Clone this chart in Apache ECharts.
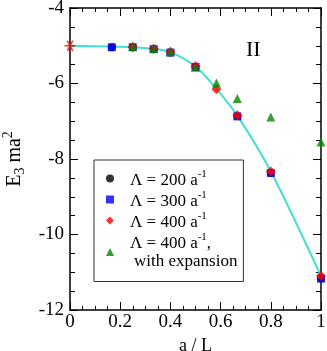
<!DOCTYPE html>
<html>
<head>
<meta charset="utf-8">
<script src="https://cdn.jsdelivr.net/npm/echarts@6/dist/echarts.min.js"></script>
<style>
  html, body { margin: 0; padding: 0; background: #fff; }
  #chart { width: 327px; height: 351px; }
</style>
</head>
<body>
<div id="chart"></div>
<script>
// a / L values and E_3 ma^2 for each cutoff
var xs200 = [1 / 6, 0.25, 1 / 3, 0.4, 0.5, 2 / 3, 0.8, 1];
var ys200 = [-5.04, -5.04, -5.09, -5.18, -5.56, -6.87, -8.37, -11.16];
var xs300 = [1 / 6, 0.25, 1 / 3, 0.4, 0.5, 2 / 3, 0.8, 1];
var ys300 = [-5.04, -5.04, -5.09, -5.18, -5.56, -6.87, -8.37, -11.17];
var xs400 = [0.25, 1 / 3, 0.4, 0.5, 7 / 12, 2 / 3, 0.8, 1];
var ys400 = [-5.03, -5.08, -5.16, -5.54, -6.15, -6.84, -8.33, -11.1];
var xsExp = [0.25, 1 / 3, 0.4, 0.5, 7 / 12, 2 / 3, 0.8, 1];
var ysExp = [-5.02, -5.07, -5.16, -5.57, -5.99, -6.4, -6.89, -7.55];
// fitted curve
var fitX = [0, 1 / 6, 0.25, 1 / 3, 0.4, 0.5, 7 / 12, 2 / 3, 0.8, 1];
var fitY = [-5.0, -5.02, -5.04, -5.08, -5.17, -5.55, -6.14, -6.85, -8.33, -11.1];
// continuum limit
var limitPoint = [[0, -5.0]];

function pairs(xs, ys) {
  return xs.map(function (x, i) { return [x, ys[i]]; });
}

var serif = 'Liberation Serif';
var legendText = {
  L200: '{f|\u039B = 200 a}{s|-1}',
  L300: '{f|\u039B = 300 a}{s|-1}',
  L400: '{f|\u039B = 400 a}{s|-1}',
  L400e: '{f|\u039B = 400 a}{s|-1}{a|,}\n{g|with expansion}'
};

// asterisk made of three thin bars
var starPath = 'path://M-0.7,-5 L0.7,-5 L0.7,5 L-0.7,5 Z ' +
  'M3.98,-3.106 L4.68,-1.894 L-3.98,3.106 L-4.68,1.894 Z ' +
  'M-4.68,-1.894 L-3.98,-3.106 L4.68,1.894 L3.98,3.106 Z';

var chart = echarts.init(document.getElementById('chart'));

var axisBase = {
  type: 'value',
  axisLine: { show: true, onZero: false, lineStyle: { color: '#000', width: 1.5 } },
  axisTick: { show: true, inside: true, length: 8, lineStyle: { color: '#000', width: 1 } },
  minorTick: { show: true, splitNumber: 4, length: 4, lineStyle: { color: '#000', width: 1 } },
  splitLine: { show: false }
};

var option = {
  animation: false,
  grid: { left: 70, right: 6, top: 8, bottom: 41, outerBoundsMode: 'none' },
  xAxis: [
    Object.assign({}, axisBase, {
      min: 0, max: 1, interval: 0.2,
      name: 'a / L', nameLocation: 'middle', nameGap: 25,
      nameTextStyle: { fontFamily: serif, fontSize: 18, color: '#000' },
      axisLabel: {
        fontFamily: serif, fontSize: 19, color: '#000', margin: 3,
        formatter: function (v) { return v === 0 ? '0' : (v === 1 ? '1' : v.toFixed(1)); }
      }
    }),
    Object.assign({}, axisBase, {
      position: 'top', min: 0, max: 1, interval: 0.2, axisLabel: { show: false }
    })
  ],
  yAxis: [
    Object.assign({}, axisBase, {
      min: -12, max: -4, interval: 2,
      minorTick: { show: true, splitNumber: 4, length: 5, lineStyle: { color: '#000' } },
      name: '{a|E}{sub|3}{a| ma}{sup|2}', nameLocation: 'middle', nameGap: 42,
      nameTextStyle: {
        color: '#000',
        rich: {
          a: { fontFamily: serif, fontSize: 20, color: '#000', lineHeight: 26 },
          sub: { fontFamily: serif, fontSize: 14, color: '#000', verticalAlign: 'bottom', lineHeight: 14 },
          sup: { fontFamily: serif, fontSize: 14, color: '#000', verticalAlign: 'top', lineHeight: 14 }
        }
      },
      axisLabel: { fontFamily: serif, fontSize: 19, color: '#000', margin: 6 }
    }),
    Object.assign({}, axisBase, {
      position: 'right', min: -12, max: -4, interval: 2,
      minorTick: { show: true, splitNumber: 4, length: 5, lineStyle: { color: '#000' } },
      axisLabel: { show: false }
    })
  ],
  legend: {
    orient: 'vertical',
    left: 94, top: 160,
    padding: [8, 6, 11, 12],
    itemGap: 0,
    itemWidth: 8, itemHeight: 8,
    borderColor: '#333', borderWidth: 1, borderRadius: 0,
    backgroundColor: '#fff',
    data: [
      { name: 'L200', icon: 'circle' },
      { name: 'L300', icon: 'rect' },
      { name: 'L400', icon: 'diamond' },
      { name: 'L400e', icon: 'triangle' }
    ],
    formatter: function (name) { return legendText[name]; },
    textStyle: {
      color: '#000',
      rich: {
        f: { fontFamily: serif, fontSize: 17, color: '#000', lineHeight: 20, padding: [4, 0, 0, 11] },
        a: { fontFamily: serif, fontSize: 17, color: '#000', lineHeight: 20, padding: [4, 0, 0, 0] },
        g: { fontFamily: serif, fontSize: 17, color: '#000', lineHeight: 21, padding: [0, 0, 0, 15] },
        s: { fontFamily: serif, fontSize: 11, color: '#000', verticalAlign: 'top', lineHeight: 11 }
      }
    }
  },
  graphic: [{
    type: 'text', left: 246, top: 39,
    style: { text: 'II', font: '22px "Liberation Serif"', fill: '#000' }
  }],
  series: [
    {
      name: 'fit', type: 'line', data: pairs(fitX, fitY),
      smooth: 0.3, showSymbol: false, z: 1,
      lineStyle: { color: '#40e0d0', width: 2 }
    },
    {
      name: 'limit', type: 'scatter', data: limitPoint, clip: false, z: 5,
      symbol: starPath, symbolSize: 11, symbolRotate: 90,
      itemStyle: { color: '#ff0000' }
    },
    {
      name: 'L200', type: 'scatter', data: pairs(xs200, ys200), clip: false, z: 2,
      symbol: 'circle', symbolSize: 8, itemStyle: { color: '#000' }
    },
    {
      name: 'L300', type: 'scatter', data: pairs(xs300, ys300), clip: false, z: 3,
      symbol: 'rect', symbolSize: 8, itemStyle: { color: '#0000ff' }
    },
    {
      name: 'L400', type: 'scatter', data: pairs(xs400, ys400), clip: false, z: 4,
      symbol: 'diamond', symbolSize: 10, itemStyle: { color: '#ff0000' }
    },
    {
      name: 'L400e', type: 'scatter', data: pairs(xsExp, ysExp), clip: false, z: 5,
      symbol: 'triangle', symbolSize: 9, itemStyle: { color: '#008800' }
    }
  ]
};

chart.setOption(option);
</script>
</body>
</html>
